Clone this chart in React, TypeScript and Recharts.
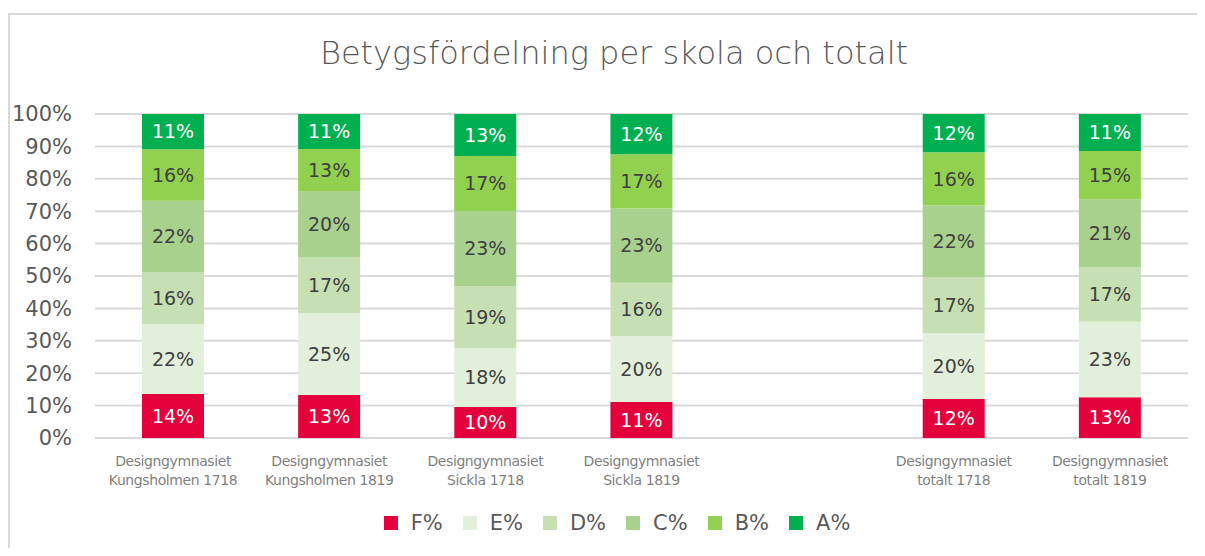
import { Bar, BarChart, CartesianGrid, LabelList, XAxis, YAxis } from "recharts";

// Betygsfördelning (share of grades, %) per school and year.
// The empty slot keeps the gap between the schools and the totals.
const CATEGORIES = [
  "Designgymnasiet Kungsholmen 1718",
  "Designgymnasiet Kungsholmen 1819",
  "Designgymnasiet Sickla 1718",
  "Designgymnasiet Sickla 1819",
  "",
  "Designgymnasiet totalt 1718",
  "Designgymnasiet totalt 1819",
];

const F_PCT = [13.6, 13.3, 9.6, 11.1, null, 12.0, 12.6];
const E_PCT = [21.6, 25.3, 18.2, 20.4, null, 20.4, 23.3];
const D_PCT = [16.0, 17.3, 19.1, 16.4, null, 17.3, 16.7];
const C_PCT = [22.0, 20.3, 23.2, 22.9, null, 22.1, 21.1];
const B_PCT = [15.9, 13.0, 16.9, 16.8, null, 16.4, 14.9];
const A_PCT = [10.9, 10.8, 13.0, 12.4, null, 11.8, 11.4];

const Y_TICKS = [0, 10, 20, 30, 40, 50, 60, 70, 80, 90, 100];

const SERIES = [
  { key: "F%", values: F_PCT, fill: "#e4003b", label: "#ffffff" },
  { key: "E%", values: E_PCT, fill: "#e2efda", label: "#404040" },
  { key: "D%", values: D_PCT, fill: "#c6e0b4", label: "#404040" },
  { key: "C%", values: C_PCT, fill: "#a9d18e", label: "#404040" },
  { key: "B%", values: B_PCT, fill: "#92d050", label: "#404040" },
  { key: "A%", values: A_PCT, fill: "#00b050", label: "#ffffff" },
];

const FONT = '"DejaVu Sans", sans-serif';

const rows = CATEGORIES.map((name, i) => {
  const row: Record<string, string | number | null> = { name };
  SERIES.forEach((s) => {
    row[s.key] = s.values[i];
  });
  return row;
});

// two-line category label: "Designgymnasiet" on top, the rest below
function CategoryTick({ x, y, payload }: any) {
  const text: string = payload?.value ?? "";
  if (!text) return null;
  const cut = text.indexOf(" ");
  const first = text.slice(0, cut);
  const second = text.slice(cut + 1);
  return (
    <text
      x={x}
      y={y}
      textAnchor="middle"
      fill="#7f7f7f"
      fontSize={14}
      letterSpacing={-0.4}
      fontFamily={FONT}
    >
      <tspan x={x} dy={28}>
        {first}
      </tspan>
      <tspan x={x} dy={19}>
        {second}
      </tspan>
    </text>
  );
}

const pctLabel = (v: any) => (v === null || v === undefined ? "" : `${Math.round(Number(v))}%`);

export default function App() {
  return (
    <div style={{ position: "relative", width: 1197, height: 540, overflow: "hidden", fontFamily: FONT }}>
      {/* chart frame; right and bottom edges fall outside the window */}
      <div
        style={{
          position: "absolute",
          left: 0,
          top: 5,
          width: 1260,
          height: 620,
          border: "2px solid #d9d9d9",
          boxSizing: "border-box",
        }}
      />
      <div
        style={{
          position: "absolute",
          left: 0,
          top: 29,
          width: 1212,
          textAlign: "center",
          fontSize: 32,
          lineHeight: "32px",
          fontWeight: 300,
          color: "#595959",
          whiteSpace: "nowrap",
        }}
      >
        Betygsfördelning per skola och totalt
      </div>

      <div style={{ position: "absolute", left: 0, top: 0 }}>
        <BarChart
          width={1197}
          height={540}
          data={rows}
          margin={{ top: 106, right: 17, bottom: 50, left: 0 }}
          barSize={62}
        >
          <CartesianGrid vertical={false} stroke="#d9d9d9" strokeWidth={2} />
          <XAxis
            dataKey="name"
            type="category"
            axisLine={false}
            tickLine={false}
            tickSize={0}
            tickMargin={0}
            height={60}
            interval={0}
            tick={<CategoryTick />}
          />
          <YAxis
            type="number"
            domain={[0, 100]}
            ticks={Y_TICKS}
            width={87}
            axisLine={false}
            tickLine={false}
            tickSize={0}
            tickMargin={23}
            tickFormatter={(v) => `${v}%`}
            tick={{ fill: "#595959", fontSize: 21, fontFamily: FONT }}
          />
          {SERIES.map((s) => (
            <Bar key={s.key} dataKey={s.key} stackId="grades" fill={s.fill} isAnimationActive={false}>
              <LabelList
                dataKey={s.key}
                position="center"
                formatter={pctLabel}
                fill={s.label}
                fontSize={19}
                fontFamily={FONT}
              />
            </Bar>
          ))}
        </BarChart>
      </div>

      <div
        style={{
          position: "absolute",
          left: 0,
          top: 503,
          width: 1218,
          display: "flex",
          justifyContent: "center",
          alignItems: "center",
          fontSize: 21,
          color: "#595959",
        }}
      >
        {SERIES.map((s) => (
          <div key={s.key} style={{ display: "flex", alignItems: "center", margin: "0 10px" }}>
            <span style={{ width: 14, height: 14, background: s.fill, display: "inline-block", marginRight: 13 }} />
            <span>{s.key}</span>
          </div>
        ))}
      </div>
    </div>
  );
}
